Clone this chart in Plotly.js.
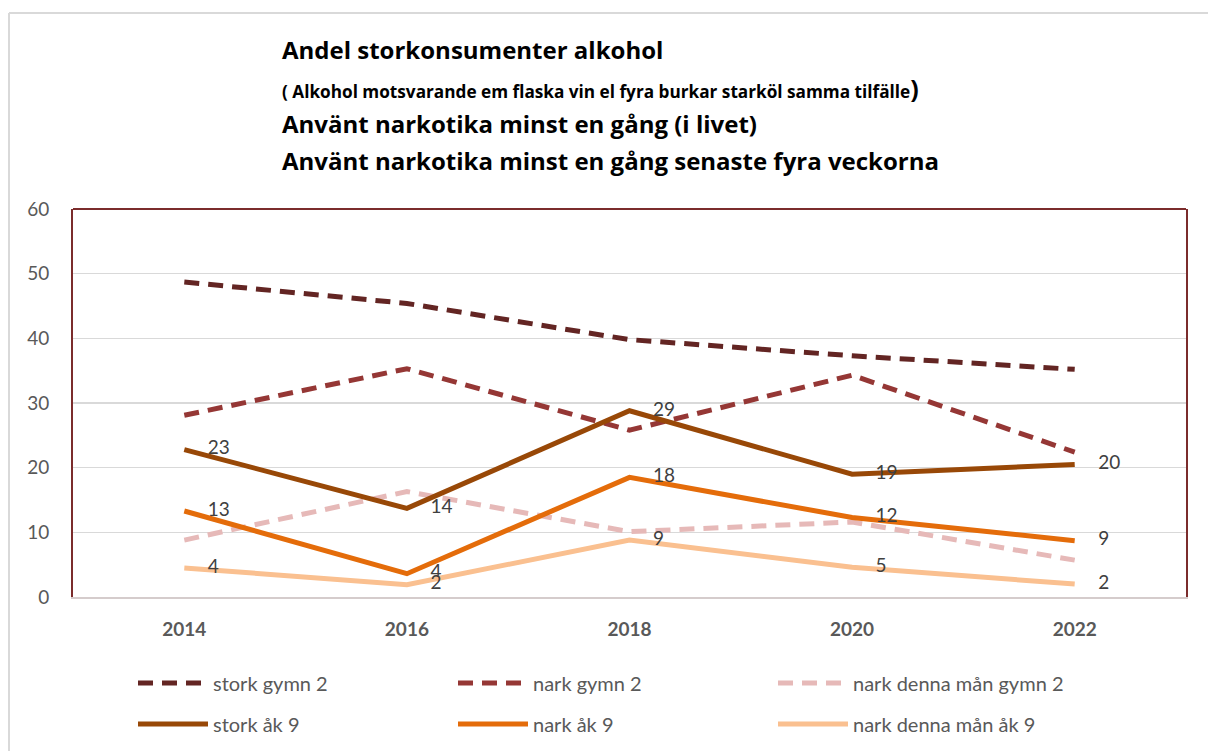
<!DOCTYPE html>
<html>
<head>
<meta charset="utf-8">
<script src="https://cdn.plot.ly/plotly-3.0.1.min.js"></script>
<style>html,body{margin:0;padding:0;background:#fff;}#chart{width:1208px;height:751px;}</style>
</head>
<body>
<div id="chart"></div>
<script>
const years = ["2014", "2016", "2018", "2020", "2022"];
const storkGymn2 = [48.7, 45.4, 39.8, 37.3, 35.2];
const narkGymn2 = [28.1, 35.3, 25.8, 34.3, 22.4];
const narkMaanGymn2 = [8.8, 16.3, 10.1, 11.6, 5.7];
const storkAk9 = [22.8, 13.7, 28.8, 19.0, 20.5];
const narkAk9 = [13.3, 3.6, 18.5, 12.3, 8.7];
const narkMaanAk9 = [4.5, 1.9, 8.8, 4.6, 2.0];
const labelsStorkAk9 = ["23", "14", "29", "19", "20"];
const labelsNarkAk9 = ["13", "4", "18", "12", "9"];
const labelsNarkMaanAk9 = ["4", "2", "9", "5", "2"];

const FONT = "Lato, 'Open Sans', sans-serif";
const TFONT = "'Open Sans', Lato, sans-serif";
const dash = "15px,9px";
const labelFont = {family: FONT, size: 19, color: "#404040"};

function dashed(name, y, color, leg) {
  return {type: "scatter", mode: "lines", name: name, x: years, y: y,
    line: {color: color, width: 5, dash: dash}, hoverinfo: "skip", legend: leg, legendgroup: name};
}
function solid(name, y, color, labels, leg) {
  return {type: "scatter", mode: "lines+markers+text", name: name, x: years, y: y,
    text: labels, textposition: "middle right", textfont: labelFont,
    marker: {size: 36, color: "rgba(0,0,0,0)"},
    line: {color: color, width: 5}, hoverinfo: "skip", legend: leg, legendgroup: name};
}

const data = [
  dashed("stork gymn 2", storkGymn2, "#632523", "legend"),
  dashed("nark gymn 2", narkGymn2, "#953735", "legend2"),
  dashed("nark denna mån gymn 2", narkMaanGymn2, "#E6B9B8", "legend3"),
  solid("stork åk 9", storkAk9, "#984807", labelsStorkAk9, "legend"),
  solid("nark åk 9", narkAk9, "#E46C0A", labelsNarkAk9, "legend2"),
  solid("nark denna mån åk 9", narkMaanAk9, "#FAC090", labelsNarkMaanAk9, "legend3")
];

const W = 1113, H = 388, L = 73, B = 597;
const px = v => (v - L) / W;
const py = v => (B - v) / H;

const titleLines = [
  {text: "<b>Andel storkonsumenter alkohol</b>", y: 50, size: 24},
  {text: "<b>( Alkohol motsvarande em flaska vin el fyra burkar starköl samma tilfälle</b><b><span style='font-size:25px'>)</span></b>", y: 88, size: 17.2},
  {text: "<b>Använt narkotika minst en gång (i livet)</b>", y: 124, size: 24},
  {text: "<b>Använt narkotika minst en gång senaste fyra veckorna</b>", y: 160, size: 24}
];

const annotations = titleLines.map(t => ({
  text: t.text, xref: "paper", yref: "paper", x: px(280), y: py(t.y),
  xanchor: "left", yanchor: "middle", showarrow: false,
  font: {family: TFONT, size: t.size, color: "#000000"}
}));

function legendAt(xpix) {
  return {orientation: "v", xref: "paper", yref: "container",
    x: px(xpix), xanchor: "left", y: (751 - 703.5) / 751, yanchor: "middle",
    itemwidth: 70, tracegroupgap: 12, traceorder: "grouped",
    font: {family: FONT, size: 20, color: "#595959"}, bgcolor: "rgba(0,0,0,0)"};
}

const layout = {
  width: 1208, height: 751,
  margin: {l: L, r: 1208 - 1186, t: 209, b: 751 - B},
  paper_bgcolor: "#ffffff", plot_bgcolor: "#ffffff",
  font: {family: FONT, color: "#595959"},
  showlegend: true,
  xaxis: {type: "category", range: [-0.5, 4.5], showgrid: false, zeroline: false,
    showline: true, linecolor: "#d5cccc", linewidth: 2, ticks: "",
    tickfont: {family: FONT, size: 19, color: "#595959", weight: "bold"},
    ticklabelstandoff: 14, fixedrange: true},
  yaxis: {range: [0, 60], dtick: 10, showgrid: true, gridcolor: "#d9d9d9", gridwidth: 1.5,
    zeroline: false, showline: true, mirror: true, linecolor: "#7B2C2C", linewidth: 2, ticks: "",
    tickfont: {family: FONT, size: 19, color: "#595959"}, ticklabelstandoff: 18, fixedrange: true},
  legend: legendAt(133),
  legend2: legendAt(453),
  legend3: legendAt(773),
  annotations: annotations,
  shapes: [
    {type: "line", xref: "paper", yref: "paper", x0: 0, x1: 1, y0: 1, y1: 1,
      line: {color: "#7B2C2C", width: 2}},
    {type: "line", xref: "paper", yref: "paper", x0: px(9), x1: px(1215), y0: py(13), y1: py(13),
      line: {color: "#d9d9d9", width: 2}},
    {type: "line", xref: "paper", yref: "paper", x0: px(9), x1: px(9), y0: py(13), y1: py(760),
      line: {color: "#d9d9d9", width: 2}}
  ]
};

Plotly.newPlot("chart", data, layout, {staticPlot: true, displayModeBar: false});
</script>
</body>
</html>
